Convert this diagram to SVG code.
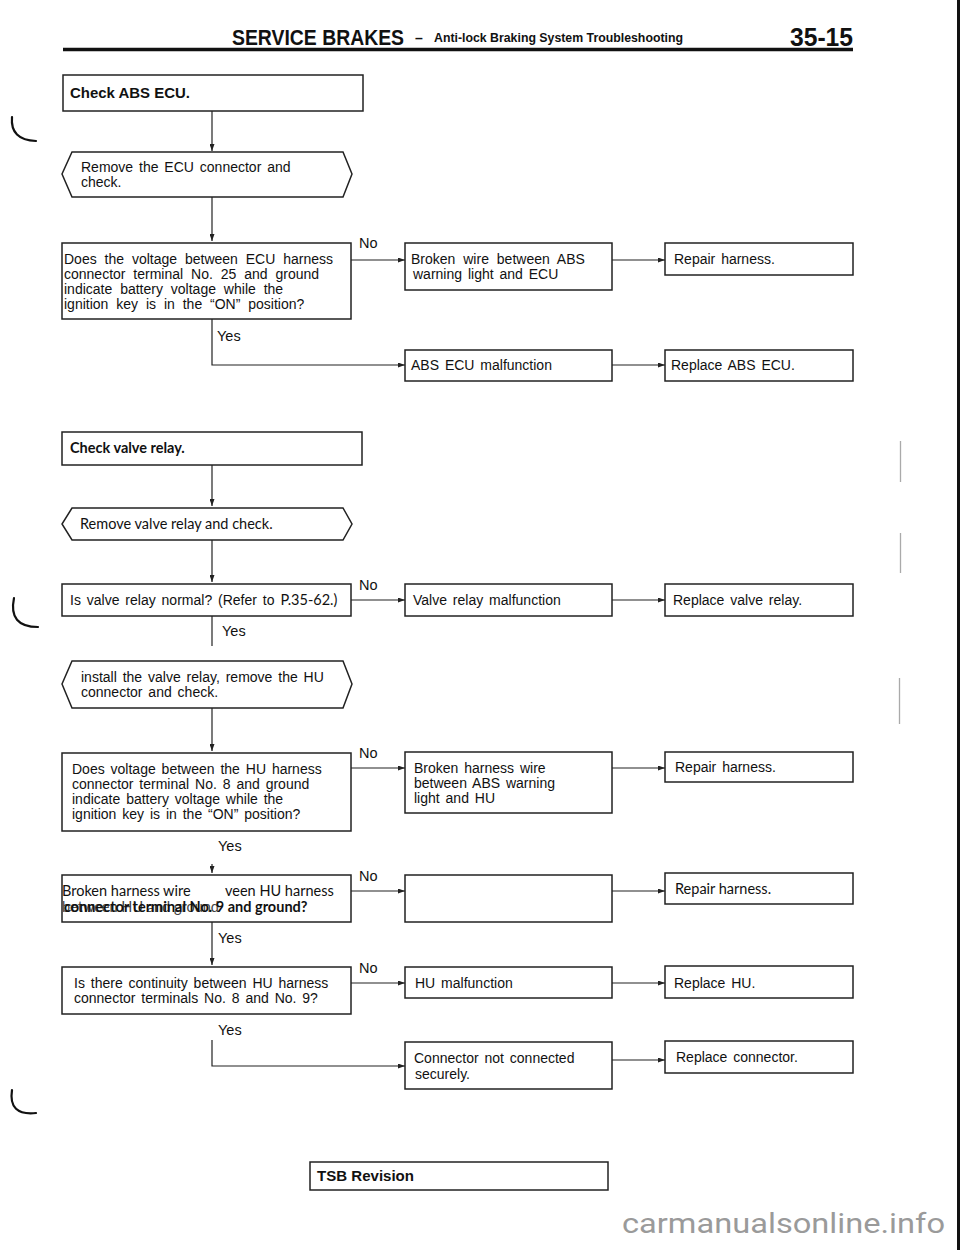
<svg xmlns="http://www.w3.org/2000/svg" width="960" height="1250" viewBox="0 0 960 1250">
<style>
.box{fill:#fff;stroke:#222;stroke-width:1.5}
.c{fill:none;stroke:#222;stroke-width:1.2}
.t{font-family:"Liberation Sans",Arial,sans-serif;font-size:14px;fill:#111;word-spacing:2px}
.w{word-spacing:4px}
.o{font-family:Lato,"Open Sans",sans-serif;font-size:14.5px;fill:#111}
.lbl{font-family:"Liberation Sans",Arial,sans-serif;font-size:14.5px;fill:#111}
.hb{font-family:"Liberation Sans",Arial,sans-serif;font-weight:bold;fill:#111}
.mark{fill:none;stroke:#111;stroke-width:2.2;stroke-linecap:round}
.g{stroke:#aaa;stroke-width:1.3}
</style>
<defs>
<marker id="ah" viewBox="0 0 7 5" refX="7" refY="2.5" markerWidth="7" markerHeight="5" markerUnits="userSpaceOnUse" orient="auto"><path d="M0,0 L7,2.5 L0,5 z" fill="#222"/></marker>
</defs>
<rect width="960" height="1250" fill="#fff"/>

<g id="header">
<text class="hb" transform="translate(232,45) scale(1,1.3)" font-size="17.5" textLength="172" lengthAdjust="spacingAndGlyphs">SERVICE BRAKES</text>
<text class="hb" x="415" y="43" font-size="14">–</text>
<text class="hb" transform="translate(434,42) scale(1,1.15)" font-size="11" textLength="249" lengthAdjust="spacingAndGlyphs">Anti-lock Braking System Troubleshooting</text>
<text class="hb" transform="translate(790,46) scale(1,1.2)" font-size="21" textLength="63" lengthAdjust="spacingAndGlyphs">35-15</text>
<line x1="63" y1="49.5" x2="853" y2="49.5" stroke="#111" stroke-width="3.5"/>
</g>

<g id="margin">
<path class="mark" d="M12,117 Q10,140 36,141"/>
<path class="mark" d="M14,598 Q8,627 38,627"/>
<path class="mark" d="M12,1090 Q8,1116 36,1113"/>
<line class="g" x1="900.5" y1="441" x2="900.5" y2="482"/>
<line class="g" x1="900.5" y1="533" x2="900.5" y2="573"/>
<line class="g" x1="899.5" y1="678" x2="899.5" y2="724"/>
<line x1="958.5" y1="0" x2="958.5" y2="1250" stroke="#111" stroke-width="3"/>
</g>

<g id="connectors">
<line class="c" x1="212" y1="111" x2="212" y2="151" marker-end="url(#ah)"/>
<line class="c" x1="212" y1="197" x2="212" y2="241" marker-end="url(#ah)"/>
<line class="c" x1="351" y1="260" x2="405" y2="260" marker-end="url(#ah)"/>
<line class="c" x1="612" y1="260" x2="665" y2="260" marker-end="url(#ah)"/>
<polyline class="c" points="212,319 212,365 405,365" marker-end="url(#ah)"/>
<line class="c" x1="612" y1="365" x2="665" y2="365" marker-end="url(#ah)"/>
<line class="c" x1="212" y1="465" x2="212" y2="506" marker-end="url(#ah)"/>
<line class="c" x1="212" y1="540" x2="212" y2="582" marker-end="url(#ah)"/>
<line class="c" x1="351" y1="600" x2="405" y2="600" marker-end="url(#ah)"/>
<line class="c" x1="612" y1="600" x2="665" y2="600" marker-end="url(#ah)"/>
<line class="c" x1="212" y1="616" x2="212" y2="646"/>
<line class="c" x1="212" y1="708" x2="212" y2="751" marker-end="url(#ah)"/>
<line class="c" x1="351" y1="768" x2="405" y2="768" marker-end="url(#ah)"/>
<line class="c" x1="612" y1="768" x2="665" y2="768" marker-end="url(#ah)"/>
<line class="c" x1="212" y1="864" x2="212" y2="873" marker-end="url(#ah)"/>
<line class="c" x1="351" y1="891" x2="405" y2="891" marker-end="url(#ah)"/>
<line class="c" x1="612" y1="891" x2="665" y2="891" marker-end="url(#ah)"/>
<line class="c" x1="212" y1="922" x2="212" y2="965" marker-end="url(#ah)"/>
<line class="c" x1="351" y1="983" x2="405" y2="983" marker-end="url(#ah)"/>
<line class="c" x1="612" y1="983" x2="665" y2="983" marker-end="url(#ah)"/>
<polyline class="c" points="212,1040 212,1066 405,1066" marker-end="url(#ah)"/>
<line class="c" x1="612" y1="1060" x2="665" y2="1060" marker-end="url(#ah)"/>
<text class="lbl" x="359" y="248">No</text>
<text class="lbl" x="217" y="341">Yes</text>
<text class="lbl" x="359" y="590">No</text>
<text class="lbl" x="222" y="636">Yes</text>
<text class="lbl" x="359" y="758">No</text>
<text class="lbl" x="218" y="851">Yes</text>
<text class="lbl" x="359" y="881">No</text>
<text class="lbl" x="218" y="943">Yes</text>
<text class="lbl" x="359" y="973">No</text>
<text class="lbl" x="218" y="1035">Yes</text>
</g>

<g id="n-check-abs-ecu">
<rect class="box" x="63" y="75" width="300" height="36"/>
<text class="hb" x="70" y="98" font-size="15" textLength="120" lengthAdjust="spacingAndGlyphs">Check ABS ECU.</text>
</g>

<g id="n-remove-ecu">
<polygon class="box" points="72,152 343,152 352,174 343,197 72,197 62,174"/>
<text class="t" x="81" y="172">Remove the ECU connector and</text>
<text class="t" x="81" y="187">check.</text>
</g>

<g id="n-q-ecu-voltage">
<rect class="box" x="62" y="243" width="289" height="76"/>
<text class="t w" x="64" y="264">Does the voltage between ECU harness</text>
<text class="t w" x="64" y="279">connector terminal No. 25 and ground</text>
<text class="t w" x="64" y="294">indicate battery voltage while the</text>
<text class="t w" x="64" y="309">ignition key is in the “ON” position?</text>
</g>

<g id="n-broken-wire-ecu">
<rect class="box" x="405" y="243" width="207" height="47"/>
<text class="t w" x="411" y="264">Broken wire between ABS</text>
<text class="t" x="413" y="279">warning light and ECU</text>
</g>

<g id="n-repair-1">
<rect class="box" x="665" y="243" width="188" height="32"/>
<text class="t" x="674" y="264">Repair harness.</text>
</g>

<g id="n-ecu-malfunction">
<rect class="box" x="405" y="350" width="207" height="31"/>
<text class="t" x="411" y="370">ABS ECU malfunction</text>
</g>

<g id="n-replace-ecu">
<rect class="box" x="665" y="350" width="188" height="31"/>
<text class="t" x="671" y="370">Replace ABS ECU.</text>
</g>

<g id="n-check-valve-relay">
<rect class="box" x="62" y="432" width="300" height="33"/>
<text class="o" x="70" y="453" font-weight="bold" font-size="15">Check valve relay.</text>
</g>

<g id="n-remove-valve-relay">
<polygon class="box" points="72,508 343,508 352,524 343,540 72,540 62,524"/>
<text class="o" x="80" y="529" font-size="15">Remove valve relay and check.</text>
</g>

<g id="n-q-valve-relay">
<rect class="box" x="62" y="584" width="289" height="32"/>
<text class="t" x="70" y="605">Is valve relay normal? (Refer to <tspan class="o">P.35-62.)</tspan></text>
</g>

<g id="n-valve-malfunction">
<rect class="box" x="405" y="584" width="207" height="32"/>
<text class="t" x="413" y="605">Valve relay malfunction</text>
</g>

<g id="n-replace-valve">
<rect class="box" x="665" y="584" width="188" height="32"/>
<text class="t" x="673" y="605">Replace valve relay.</text>
</g>

<g id="n-install-valve">
<polygon class="box" points="72,661 343,661 352,684 343,708 72,708 62,684"/>
<text class="t" x="81" y="682">install the valve relay, remove the HU</text>
<text class="t" x="81" y="697">connector and check.</text>
</g>

<g id="n-q-hu-voltage">
<rect class="box" x="62" y="753" width="289" height="78"/>
<text class="t" x="72" y="774" word-spacing="3">Does voltage between the HU harness</text>
<text class="t" x="72" y="789" word-spacing="3">connector terminal No. 8 and ground</text>
<text class="t" x="72" y="804" word-spacing="3">indicate battery voltage while the</text>
<text class="t" x="72" y="819" word-spacing="3">ignition key is in the “ON” position?</text>
</g>

<g id="n-broken-hu">
<rect class="box" x="405" y="752" width="207" height="61"/>
<text class="t" x="414" y="773" word-spacing="3">Broken harness wire</text>
<text class="t" x="414" y="788" word-spacing="3">between ABS warning</text>
<text class="t" x="414" y="803">light and HU</text>
</g>

<g id="n-repair-2">
<rect class="box" x="665" y="752" width="188" height="30"/>
<text class="t" x="675" y="772">Repair harness.</text>
</g>

<g id="n-q-hu-ground">
<rect class="box" x="62" y="875" width="289" height="47"/>
<text class="o"><tspan x="62" y="896">Broken harness wire</tspan><tspan x="225" y="896">veen HU harness</tspan><tspan x="62" y="912" fill="#444">between HU and ground</tspan><tspan x="64" y="912" font-weight="bold">connector terminal No. 9 and ground?</tspan></text>
</g>

<g id="n-empty">
<rect class="box" x="405" y="875" width="207" height="47"/>
</g>

<g id="n-repair-3">
<rect class="box" x="665" y="873" width="188" height="31"/>
<text class="o" x="675" y="894">Repair harness.</text>
</g>

<g id="n-q-continuity">
<rect class="box" x="62" y="967" width="289" height="47"/>
<text class="t" x="74" y="988" word-spacing="3">Is there continuity between HU harness</text>
<text class="t" x="74" y="1003" word-spacing="3">connector terminals No. 8 and No. 9?</text>
</g>

<g id="n-hu-malfunction">
<rect class="box" x="405" y="967" width="207" height="31"/>
<text class="t" x="415" y="988">HU malfunction</text>
</g>

<g id="n-replace-hu">
<rect class="box" x="665" y="966" width="188" height="32"/>
<text class="t" x="674" y="988">Replace HU.</text>
</g>

<g id="n-connector-loose">
<rect class="box" x="405" y="1042" width="207" height="47"/>
<text class="t" x="414" y="1063" word-spacing="3">Connector not connected</text>
<text class="t" x="415" y="1079">securely.</text>
</g>

<g id="n-replace-connector">
<rect class="box" x="665" y="1041" width="188" height="32"/>
<text class="t" x="676" y="1062" word-spacing="3">Replace connector.</text>
</g>

<g id="footer">
<rect class="box" x="310" y="1162" width="298" height="28"/>
<text class="hb" x="317" y="1181" font-size="15" textLength="97" lengthAdjust="spacingAndGlyphs">TSB Revision</text>
<text x="622" y="1233" font-family="Roboto,'Liberation Sans',sans-serif" font-size="27" fill="#9a9a9a" textLength="323" lengthAdjust="spacingAndGlyphs">carmanualsonline.info</text>
</g>
</svg>
